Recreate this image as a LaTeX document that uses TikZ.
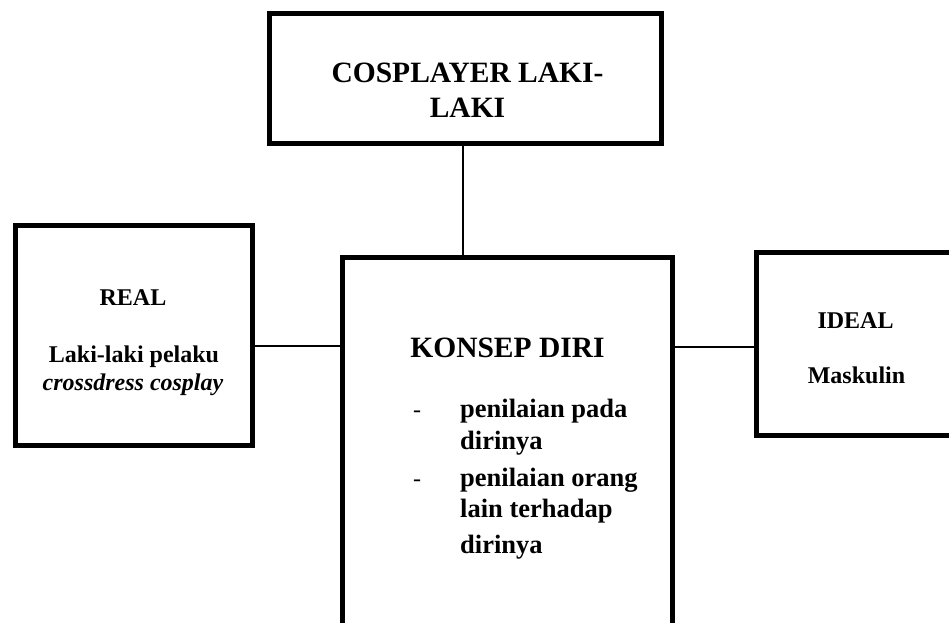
\documentclass[tikz,border=0pt]{standalone}
\usepackage{fontspec}
\setmainfont{Liberation Serif}
\begin{document}
\begin{tikzpicture}[x=1pt,y=-1pt,
  box/.style={draw,line width=5pt,rectangle,inner sep=0pt,outer sep=0pt},
  conn/.style={line width=1.6pt},
  txt/.style={inner sep=0pt,anchor=base,font=\bfseries},
  big/.style={font=\fontsize{29.5}{35}\selectfont\bfseries},
  mid/.style={font=\fontsize{24}{29}\selectfont\bfseries},
  item/.style={inner sep=0pt,anchor=base west,font=\fontsize{26.5}{31}\selectfont\bfseries}]
\useasboundingbox (0,0) rectangle (949,622);
\clip (0,0) rectangle (949,622);
\fill[white] (0,0) rectangle (949,622);
% boxes
\node[box,minimum width=392pt,minimum height=130pt] (top) at (465.5,78.5) {};
\node[box,minimum width=237pt,minimum height=220pt] (real) at (134,335.5) {};
\node[box,minimum width=330pt,minimum height=442pt] (konsep) at (507.5,478.5) {};
\node[box,minimum width=244pt,minimum height=183pt] (ideal) at (878.5,344) {};
% connectors
\coordinate (vx) at (463,0);
\coordinate (hl) at (0,346);
\coordinate (hr) at (0,347);
\draw[conn] (top.south -| vx) -- (konsep.north -| vx);
\draw[conn] (real.east |- hl) -- (konsep.west |- hl);
\draw[conn] (konsep.east |- hr) -- (ideal.west |- hr);
% texts
\node[txt,big] (t1) at (467.5,82) {COSPLAYER LAKI-};
\node[txt,big] (t2) at (467.5,117) {LAKI};
\node[txt,mid] (r1) at (133,305) {REAL};
\node[txt,mid] (r2) at (134,362) {Laki-laki pelaku};
\node[txt,mid,font=\fontsize{24}{29}\selectfont\bfseries\itshape] (r3) at (133,390) {crossdress cosplay};
\node[txt,big] (k1) at (507.5,357) {KONSEP DIRI};
\node[inner sep=0pt,anchor=base west,font=\fontsize{24}{29}\selectfont] (d1) at (413,417) {-};
\node[item] (i1) at (460,417) {penilaian pada};
\node[item] (i2) at (460,449) {dirinya};
\node[inner sep=0pt,anchor=base west,font=\fontsize{24}{29}\selectfont] (d2) at (413,486) {-};
\node[item] (i3) at (460,486) {penilaian orang};
\node[item] (i4) at (460,517) {lain terhadap};
\node[item] (i5) at (460,553) {dirinya};
\node[txt,mid] (e1) at (855.5,328) {IDEAL};
\node[txt,mid] (e2) at (856.5,383) {Maskulin};
\end{tikzpicture}
\end{document}
